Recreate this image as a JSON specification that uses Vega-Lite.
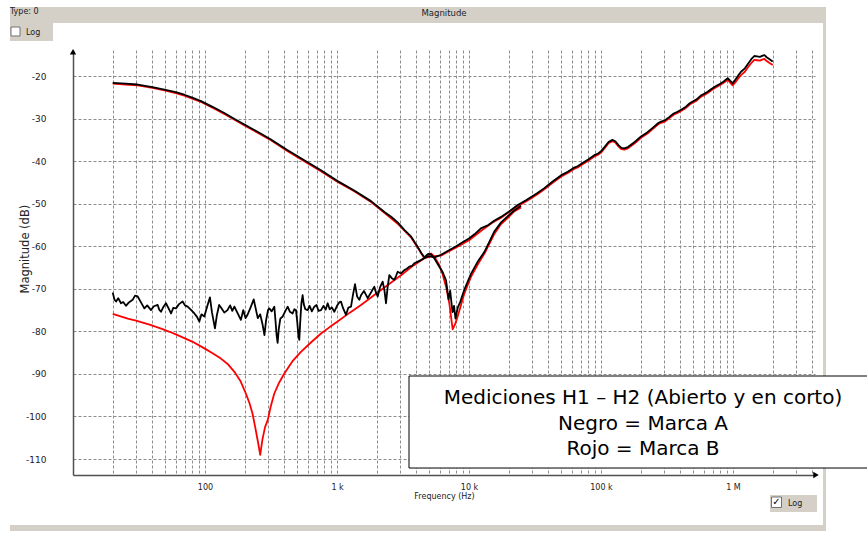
{
  "$schema": "https://vega.github.io/schema/vega-lite/v6.json",
  "width": 742,
  "height": 425,
  "autosize": {"type": "none"},
  "padding": {"left": 73, "top": 50, "right": 52, "bottom": 59},
  "background": "#ffffff",
  "config": {"view": {"stroke": null}, "font": "DejaVu Sans"},
  "datasets": {
    "rojo_abierto": [
      {"f":20,"db":-21.8},{"f":25,"db":-22.0},{"f":30.9,"db":-22.2},{"f":40,"db":-22.8},{"f":49.2,"db":-23.4},{"f":60,"db":-24.0},{"f":69.7,"db":-24.6},{"f":80,"db":-25.3},{"f":93.3,"db":-26.1},{"f":115,"db":-27.5},{"f":140,"db":-28.9},{"f":170,"db":-30.4},{"f":199,"db":-31.6},{"f":250,"db":-33.3},{"f":316,"db":-35.1},{"f":420,"db":-37.6},{"f":565,"db":-40.0},{"f":750,"db":-42.3},{"f":1012,"db":-44.9},{"f":1350,"db":-47.1},{"f":1810,"db":-49.6},{"f":2300,"db":-52.2},{"f":2881,"db":-54.7},{"f":3636,"db":-57.9},{"f":4100,"db":-60.4},{"f":4587,"db":-62.8},{"f":4900,"db":-62.0},{"f":5152,"db":-61.7},{"f":5450,"db":-62.4},{"f":5957,"db":-64.4},{"f":6300,"db":-66.5},{"f":6700,"db":-69.5},{"f":7100,"db":-73.5},{"f":7516,"db":-79.5},{"f":7850,"db":-78.3},{"f":8202,"db":-76.5},{"f":9222,"db":-71.1},{"f":10350,"db":-67.2},{"f":11700,"db":-64.2},{"f":13100,"db":-61.7},{"f":15500,"db":-57.2},{"f":17500,"db":-54.8},{"f":19600,"db":-53.4},{"f":22000,"db":-51.8},{"f":24800,"db":-50.9}
    ],
    "rojo_corto": [
      {"f":20,"db":-75.9},{"f":26,"db":-77.0},{"f":30,"db":-77.5},{"f":38,"db":-78.4},{"f":46,"db":-79.3},{"f":54,"db":-80.1},{"f":62,"db":-80.9},{"f":80,"db":-82.4},{"f":99,"db":-84.0},{"f":115,"db":-85.2},{"f":132,"db":-86.4},{"f":150,"db":-87.8},{"f":167,"db":-89.5},{"f":185,"db":-91.6},{"f":204,"db":-94.6},{"f":218,"db":-97.0},{"f":229,"db":-99.3},{"f":240,"db":-102.5},{"f":252,"db":-106.0},{"f":262,"db":-109.0},{"f":272,"db":-105.5},{"f":285,"db":-102.5},{"f":299,"db":-100.8},{"f":315,"db":-97.6},{"f":335,"db":-94.6},{"f":365,"db":-92.0},{"f":399,"db":-89.9},{"f":460,"db":-87.0},{"f":533,"db":-84.8},{"f":640,"db":-82.5},{"f":757,"db":-80.5},{"f":880,"db":-79.0},{"f":1010,"db":-77.7},{"f":1250,"db":-75.6},{"f":1520,"db":-73.8},{"f":2155,"db":-70.3},{"f":3055,"db":-66.8},{"f":3800,"db":-64.5},{"f":4587,"db":-62.8},{"f":5200,"db":-62.4},{"f":6136,"db":-62.2},{"f":7000,"db":-61.2},{"f":8000,"db":-60.3},{"f":10000,"db":-58.6},{"f":12300,"db":-56.4},{"f":15000,"db":-54.5},{"f":17500,"db":-53.3},{"f":20000,"db":-52.0},{"f":23400,"db":-50.6},
      {"f":27000,"db":-49.5},{"f":30000,"db":-48.6},{"f":33000,"db":-47.8},{"f":37000,"db":-46.7},{"f":43000,"db":-45.1},{"f":50000,"db":-43.6},{"f":56000,"db":-42.8},{"f":62000,"db":-41.9},{"f":66500,"db":-41.5},{"f":72000,"db":-40.8},{"f":80000,"db":-39.9},{"f":89000,"db":-38.9},{"f":95000,"db":-38.5},{"f":100000,"db":-38.0},{"f":107000,"db":-36.9},{"f":114000,"db":-35.8},{"f":122000,"db":-35.3},{"f":129000,"db":-35.7},{"f":136000,"db":-36.6},{"f":143000,"db":-37.2},{"f":150000,"db":-37.3},{"f":160000,"db":-37.0},{"f":180000,"db":-35.8},{"f":201000,"db":-34.5},{"f":225000,"db":-33.5},{"f":250000,"db":-32.3},{"f":270000,"db":-31.4},{"f":285000,"db":-31.0},{"f":305000,"db":-30.7},{"f":330000,"db":-29.9},{"f":355000,"db":-29.1},{"f":380000,"db":-28.7},{"f":410000,"db":-28.1},{"f":440000,"db":-27.5},{"f":470000,"db":-26.7},{"f":495000,"db":-26.3},{"f":530000,"db":-25.8},{"f":570000,"db":-24.9},{"f":610000,"db":-24.4},{"f":643000,"db":-24.0},{"f":690000,"db":-23.3},{"f":750000,"db":-22.6},{"f":800000,"db":-22.1},{"f":850000,"db":-21.6},{"f":912000,"db":-20.9},{"f":950000,"db":-21.5},{"f":993000,"db":-22.2},{"f":1040000,"db":-21.5},{"f":1100000,"db":-20.5},{"f":1150000,"db":-19.8},{"f":1230000,"db":-19.0},{"f":1300000,"db":-17.9},{"f":1380000,"db":-16.9},{"f":1450000,"db":-16.2},{"f":1520000,"db":-16.3},{"f":1600000,"db":-16.4},{"f":1680000,"db":-16.1},{"f":1730000,"db":-16.0},{"f":1800000,"db":-16.5},{"f":1880000,"db":-16.9},{"f":2000000,"db":-17.4}
    ],
    "negro_abierto": [
      {"f":20,"db":-21.6},{"f":25,"db":-21.8},{"f":30.9,"db":-22.0},{"f":40,"db":-22.6},{"f":49.2,"db":-23.2},{"f":60,"db":-23.8},{"f":69.7,"db":-24.4},{"f":80,"db":-25.1},{"f":93.3,"db":-25.9},{"f":115,"db":-27.3},{"f":140,"db":-28.7},{"f":170,"db":-30.2},{"f":199,"db":-31.4},{"f":250,"db":-33.1},{"f":316,"db":-34.9},{"f":420,"db":-37.4},{"f":565,"db":-39.8},{"f":750,"db":-42.1},{"f":1012,"db":-44.7},{"f":1350,"db":-46.9},{"f":1810,"db":-49.4},{"f":2300,"db":-52.0},{"f":2600,"db":-53.2},{"f":2881,"db":-54.4},{"f":3250,"db":-56.2},{"f":3636,"db":-57.7},{"f":3900,"db":-59.2},{"f":4100,"db":-60.2},{"f":4350,"db":-61.6},{"f":4587,"db":-62.6},{"f":4900,"db":-61.8},{"f":5152,"db":-61.9},{"f":5500,"db":-63.0},{"f":5957,"db":-64.8},{"f":6300,"db":-66.0},{"f":6700,"db":-68.0},{"f":7000,"db":-72.5},{"f":7200,"db":-70.5},{"f":7500,"db":-75.5},{"f":7700,"db":-74.0},{"f":7900,"db":-77.0},{"f":8200,"db":-74.5},{"f":8600,"db":-73.0},{"f":9222,"db":-70.2},{"f":10350,"db":-66.5},{"f":11700,"db":-63.5},{"f":13100,"db":-61.3},{"f":15500,"db":-56.6},{"f":17500,"db":-54.4},{"f":19600,"db":-53.0},{"f":22000,"db":-51.6},{"f":24800,"db":-50.5}
    ],
    "negro_corto": [
      {"f":20,"db":-70.9},{"f":20.6,"db":-72.5},{"f":21.2,"db":-73.0},{"f":22,"db":-72.2},{"f":23.1,"db":-73.4},{"f":24,"db":-73.1},{"f":25.2,"db":-74.0},{"f":26.5,"db":-73.2},{"f":28.3,"db":-72.6},{"f":29.5,"db":-71.6},{"f":30.9,"db":-71.8},{"f":32.5,"db":-73.0},{"f":34.7,"db":-74.6},{"f":36.5,"db":-73.9},{"f":39,"db":-75.0},{"f":41,"db":-74.1},{"f":43.8,"db":-73.8},{"f":45,"db":-74.9},{"f":46.4,"db":-75.4},{"f":48.5,"db":-74.2},{"f":50.6,"db":-73.4},{"f":53,"db":-74.6},{"f":55.3,"db":-75.8},{"f":57.5,"db":-74.5},{"f":60.3,"db":-74.6},{"f":63.5,"db":-73.6},{"f":67.7,"db":-73.0},{"f":70.5,"db":-73.9},{"f":73.9,"db":-74.2},{"f":78,"db":-74.9},{"f":83.1,"db":-75.8},{"f":87,"db":-76.6},{"f":90.6,"db":-77.7},{"f":94,"db":-76.0},{"f":98.8,"db":-76.5},{"f":104,"db":-74.1},{"f":109,"db":-72.0},{"f":113,"db":-75.6},{"f":119,"db":-79.3},{"f":123,"db":-76.2},{"f":128,"db":-73.8},{"f":133,"db":-74.5},{"f":140,"db":-75.6},{"f":148,"db":-75.0},{"f":155,"db":-73.9},{"f":161,"db":-75.2},{"f":167,"db":-74.2},{"f":175,"db":-75.5},{"f":187,"db":-77.3},{"f":195,"db":-75.0},{"f":203,"db":-76.9},{"f":210,"db":-76.1},{"f":222,"db":-74.3},{"f":234,"db":-72.5},{"f":242,"db":-74.6},{"f":251,"db":-76.9},{"f":262,"db":-76.0},{"f":273,"db":-78.4},{"f":282,"db":-80.9},{"f":290,"db":-77.5},{"f":300,"db":-75.0},{"f":307,"db":-74.6},{"f":320,"db":-75.3},{"f":335,"db":-74.2},{"f":342,"db":-77.5},{"f":349,"db":-81.0},{"f":355,"db":-82.7},{"f":362,"db":-79.5},{"f":372,"db":-77.0},{"f":388,"db":-76.5},{"f":405,"db":-75.3},{"f":423,"db":-74.2},{"f":440,"db":-75.4},{"f":461,"db":-75.8},{"f":475,"db":-74.8},{"f":489,"db":-75.0},{"f":500,"db":-77.8},{"f":510,"db":-81.0},{"f":518,"db":-82.0},{"f":526,"db":-78.0},{"f":537,"db":-73.5},{"f":549,"db":-71.5},{"f":560,"db":-73.6},{"f":575,"db":-74.8},{"f":599,"db":-75.0},{"f":620,"db":-74.0},{"f":645,"db":-75.3},{"f":673,"db":-74.2},{"f":700,"db":-73.8},{"f":725,"db":-75.2},{"f":757,"db":-75.0},{"f":790,"db":-74.0},{"f":820,"db":-74.9},{"f":850,"db":-73.4},{"f":880,"db":-74.8},{"f":915,"db":-74.4},{"f":954,"db":-75.4},{"f":1000,"db":-74.0},{"f":1040,"db":-73.2},{"f":1072,"db":-73.0},{"f":1110,"db":-74.5},{"f":1170,"db":-76.1},{"f":1220,"db":-74.4},{"f":1277,"db":-74.2},{"f":1320,"db":-71.5},{"f":1369,"db":-68.9},{"f":1420,"db":-71.8},{"f":1476,"db":-72.6},{"f":1520,"db":-71.5},{"f":1600,"db":-70.5},{"f":1708,"db":-72.2},{"f":1800,"db":-71.0},{"f":1918,"db":-69.5},{"f":1970,"db":-70.8},{"f":2033,"db":-71.8},{"f":2120,"db":-69.6},{"f":2218,"db":-68.3},{"f":2290,"db":-70.5},{"f":2351,"db":-73.4},{"f":2420,"db":-69.5},{"f":2492,"db":-66.8},{"f":2600,"db":-67.5},{"f":2718,"db":-67.9},{"f":2800,"db":-67.0},{"f":2881,"db":-66.0},{"f":3050,"db":-66.4},{"f":3236,"db":-65.6},{"f":3380,"db":-65.3},{"f":3532,"db":-64.8},{"f":3700,"db":-64.6},{"f":3853,"db":-64.0},{"f":4100,"db":-63.6},{"f":4350,"db":-63.2},{"f":4587,"db":-62.8},{"f":5000,"db":-62.3},{"f":5500,"db":-62.6},{"f":6136,"db":-62.0},{"f":7000,"db":-61.0},{"f":8000,"db":-60.0},{"f":9000,"db":-59.0},{"f":10000,"db":-58.2},{"f":11000,"db":-57.2},{"f":12300,"db":-55.8},{"f":14000,"db":-55.0},{"f":15500,"db":-54.0},{"f":17500,"db":-53.1},{"f":20000,"db":-51.9},{"f":23400,"db":-50.3},
      {"f":27000,"db":-49.2},{"f":30000,"db":-48.3},{"f":33000,"db":-47.5},{"f":37000,"db":-46.4},{"f":43000,"db":-44.8},{"f":50000,"db":-43.3},{"f":56000,"db":-42.5},{"f":62000,"db":-41.6},{"f":66500,"db":-41.2},{"f":72000,"db":-40.5},{"f":80000,"db":-39.6},{"f":89000,"db":-38.6},{"f":95000,"db":-38.2},{"f":100000,"db":-37.7},{"f":107000,"db":-36.6},{"f":114000,"db":-35.5},{"f":122000,"db":-35.0},{"f":129000,"db":-35.4},{"f":136000,"db":-36.3},{"f":143000,"db":-36.9},{"f":150000,"db":-37.0},{"f":160000,"db":-36.7},{"f":180000,"db":-35.5},{"f":201000,"db":-34.2},{"f":225000,"db":-33.2},{"f":250000,"db":-32.0},{"f":270000,"db":-31.1},{"f":285000,"db":-30.7},{"f":305000,"db":-30.4},{"f":330000,"db":-29.6},{"f":355000,"db":-28.8},{"f":380000,"db":-28.4},{"f":410000,"db":-27.8},{"f":440000,"db":-27.2},{"f":470000,"db":-26.4},{"f":495000,"db":-26.0},{"f":530000,"db":-25.5},{"f":570000,"db":-24.6},{"f":610000,"db":-24.1},{"f":643000,"db":-23.7},{"f":690000,"db":-23.0},{"f":750000,"db":-22.3},{"f":800000,"db":-21.8},{"f":850000,"db":-21.3},{"f":912000,"db":-20.5},{"f":950000,"db":-21.1},{"f":993000,"db":-21.7},{"f":1040000,"db":-20.9},{"f":1100000,"db":-19.8},{"f":1150000,"db":-19.0},{"f":1230000,"db":-18.2},{"f":1300000,"db":-17.1},{"f":1380000,"db":-16.0},{"f":1450000,"db":-15.3},{"f":1520000,"db":-15.4},{"f":1600000,"db":-15.5},{"f":1680000,"db":-15.2},{"f":1730000,"db":-15.1},{"f":1800000,"db":-15.6},{"f":1880000,"db":-16.0},{"f":2000000,"db":-16.6}
    ]
  },
  "layer": [
    {
      "data": {"name": "rojo_abierto"},
      "mark": {"type": "line", "color": "#ff0000", "strokeWidth": 1.8, "strokeJoin": "round"},
      "encoding": {
        "x": {
          "field": "f", "type": "quantitative",
          "scale": {"type": "log", "domain": [10, 4180000], "nice": false},
          "axis": {
            "values": [20,30,40,50,60,70,80,90,100,200,300,400,500,600,700,800,900,1000,2000,3000,4000,5000,6000,7000,8000,9000,10000,20000,30000,40000,50000,60000,70000,80000,90000,100000,200000,300000,400000,500000,600000,700000,800000,900000,1000000,2000000,3000000,4000000],
            "labelExpr": "datum.value == 100 ? '100' : datum.value == 1000 ? '1 k' : datum.value == 10000 ? '10 k' : datum.value == 100000 ? '100 k' : datum.value == 1000000 ? '1 M' : ''",
            "grid": true, "gridColor": "#8c8c8c", "gridDash": [3, 2], "gridWidth": 1,
            "ticks": false, "tickSize": 0,
            "domainColor": "#505050", "domainWidth": 1.5,
            "labelFont": "DejaVu Sans", "labelFontSize": 8, "labelColor": "#222222", "labelPadding": 8,
            "labelOverlap": false, "labelFlush": false, "labelBound": false,
            "title": "Frequency (Hz)", "titleFont": "DejaVu Sans", "titleFontSize": 8, "titleFontWeight": "normal", "titleColor": "#222222",
            "titleY": 21, "titleBaseline": "middle"
          }
        },
        "y": {
          "field": "db", "type": "quantitative",
          "scale": {"domain": [-113.75, -13.89], "nice": false, "zero": false},
          "axis": {
            "values": [-110,-100,-90,-80,-70,-60,-50,-40,-30,-20],
            "labelExpr": "'' + datum.value",
            "grid": true, "gridColor": "#8c8c8c", "gridDash": [3, 2], "gridWidth": 1,
            "ticks": false, "tickSize": 0,
            "domainColor": "#505050", "domainWidth": 1.5,
            "labelFont": "DejaVu Sans", "labelFontSize": 9, "labelColor": "#222222", "labelPadding": 27,
            "labelOverlap": false, "labelFlush": false, "labelBound": false,
            "title": "Magnitude (dB)", "titleFont": "DejaVu Sans", "titleFontSize": 11.5, "titleFontWeight": "normal", "titleColor": "#222222",
            "titleX": -48, "titleY": 198.6, "titleAngle": -90, "titleAlign": "center", "titleBaseline": "middle"
          }
        }
      }
    },
    {
      "data": {"name": "rojo_corto"},
      "mark": {"type": "line", "color": "#ff0000", "strokeWidth": 1.8, "strokeJoin": "round"},
      "encoding": {
        "x": {"field": "f", "type": "quantitative"},
        "y": {"field": "db", "type": "quantitative"}
      }
    },
    {
      "data": {"name": "negro_abierto"},
      "mark": {"type": "line", "color": "#000000", "strokeWidth": 1.8, "strokeJoin": "round"},
      "encoding": {
        "x": {"field": "f", "type": "quantitative"},
        "y": {"field": "db", "type": "quantitative"}
      }
    },
    {
      "data": {"name": "negro_corto"},
      "mark": {"type": "line", "color": "#000000", "strokeWidth": 1.8, "strokeJoin": "round"},
      "encoding": {
        "x": {"field": "f", "type": "quantitative"},
        "y": {"field": "db", "type": "quantitative"}
      }
    },
    {
      "data": {"values": [{}]},
      "mark": {"type": "rect", "fill": "#d4d0c8"},
      "encoding": {
        "x": {"datum": 3.33, "type": "quantitative"},
        "x2": {"datum": 5064000},
        "y": {"datum": -3.79, "type": "quantitative"},
        "y2": {"datum": -7.55}
      }
    },
    {
      "data": {"values": [{}]},
      "mark": {"type": "rect", "fill": "#d4d0c8"},
      "encoding": {
        "x": {"datum": 4806000, "type": "quantitative"},
        "x2": {"datum": 5064000},
        "y": {"datum": -3.79, "type": "quantitative"},
        "y2": {"datum": -126.9}
      }
    },
    {
      "data": {"values": [{}]},
      "mark": {"type": "rect", "fill": "#d4d0c8"},
      "encoding": {
        "x": {"datum": 3.33, "type": "quantitative"},
        "x2": {"datum": 5064000},
        "y": {"datum": -125.5, "type": "quantitative"},
        "y2": {"datum": -126.9}
      }
    },
    {
      "data": {"values": [{}]},
      "mark": {"type": "rect", "fill": "#d4d0c8"},
      "encoding": {
        "x": {"datum": 3.33, "type": "quantitative"},
        "x2": {"datum": 7.056},
        "y": {"datum": -7.55, "type": "quantitative"},
        "y2": {"datum": -11.78}
      }
    },
    {
      "data": {"values": [{}]},
      "mark": {"type": "rect", "fill": "#d4d0c8"},
      "encoding": {
        "x": {"datum": 1907000, "type": "quantitative"},
        "x2": {"datum": 4330000},
        "y": {"datum": -118.45, "type": "quantitative"},
        "y2": {"datum": -122.44}
      }
    },
    {
      "data": {"values": [{}]},
      "mark": {"type": "rect", "fill": "#ffffff", "stroke": "#707070", "strokeWidth": 1},
      "encoding": {
        "x": {"datum": 3.39, "type": "quantitative"},
        "x2": {"datum": 3.97},
        "y": {"datum": -8.49, "type": "quantitative"},
        "y2": {"datum": -10.6}
      }
    },
    {
      "data": {"values": [{}]},
      "mark": {"type": "rect", "fill": "#ffffff", "stroke": "#707070", "strokeWidth": 1},
      "encoding": {
        "x": {"datum": 1957000, "type": "quantitative"},
        "x2": {"datum": 2330000},
        "y": {"datum": -118.92, "type": "quantitative"},
        "y2": {"datum": -121.39}
      }
    },
    {
      "data": {"values": [{}]},
      "mark": {"type": "text", "text": "Type: 0", "align": "left", "baseline": "middle", "font": "DejaVu Sans", "fontSize": 8, "color": "#222222"},
      "encoding": {
        "x": {"datum": 3.33, "type": "quantitative"},
        "y": {"datum": -5.01, "type": "quantitative"}
      }
    },
    {
      "data": {"values": [{}]},
      "mark": {"type": "text", "text": "Magnitude", "align": "center", "baseline": "middle", "font": "DejaVu Sans", "fontSize": 8.5, "color": "#222222"},
      "encoding": {
        "x": {"datum": 6466, "type": "quantitative"},
        "y": {"datum": -5.08, "type": "quantitative"}
      }
    },
    {
      "data": {"values": [{}]},
      "mark": {"type": "text", "text": "Log", "align": "left", "baseline": "middle", "font": "DejaVu Sans", "fontSize": 8, "color": "#222222"},
      "encoding": {
        "x": {"datum": 4.405, "type": "quantitative"},
        "y": {"datum": -9.78, "type": "quantitative"}
      }
    },
    {
      "data": {"values": [{}]},
      "mark": {"type": "text", "text": "Log", "align": "left", "baseline": "middle", "font": "DejaVu Sans", "fontSize": 8, "color": "#222222"},
      "encoding": {
        "x": {"datum": 2610000, "type": "quantitative"},
        "y": {"datum": -120.56, "type": "quantitative"}
      }
    },
    {
      "data": {"values": [{}]},
      "mark": {"type": "text", "text": "✓", "align": "center", "baseline": "middle", "font": "DejaVu Sans", "fontSize": 10, "fontWeight": "bold", "color": "#000000"},
      "encoding": {
        "x": {"datum": 2135000, "type": "quantitative"},
        "y": {"datum": -120.1, "type": "quantitative"}
      }
    },
    {
      "data": {"values": [{}]},
      "mark": {"type": "point", "shape": "triangle-up", "filled": true, "color": "#000000", "size": 40, "opacity": 1},
      "encoding": {
        "x": {"datum": 10, "type": "quantitative"},
        "y": {"datum": -14.3, "type": "quantitative"}
      }
    },
    {
      "data": {"values": [{}]},
      "mark": {"type": "point", "shape": "triangle-right", "filled": true, "color": "#000000", "size": 40, "opacity": 1},
      "encoding": {
        "x": {"datum": 4255000, "type": "quantitative"},
        "y": {"datum": -113.75, "type": "quantitative"}
      }
    },
    {
      "data": {"values": [{}]},
      "mark": {"type": "rect", "fill": "#ffffff", "stroke": "#000000", "strokeWidth": 1},
      "encoding": {
        "x": {"datum": 3512, "type": "quantitative"},
        "x2": {"datum": 10900000},
        "y": {"datum": -90.49, "type": "quantitative"},
        "y2": {"datum": -112.11}
      }
    },
    {
      "data": {"values": [{}]},
      "mark": {"type": "text", "text": ["Mediciones H1 – H2 (Abierto y en corto)", "Negro = Marca A", "Rojo = Marca B"], "align": "center", "baseline": "alphabetic", "font": "DejaVu Sans", "fontSize": 20, "lineHeight": 25.5, "color": "#000000"},
      "encoding": {
        "x": {"datum": 208000, "type": "quantitative"},
        "y": {"datum": -97.07, "type": "quantitative"}
      }
    }
  ]
}
